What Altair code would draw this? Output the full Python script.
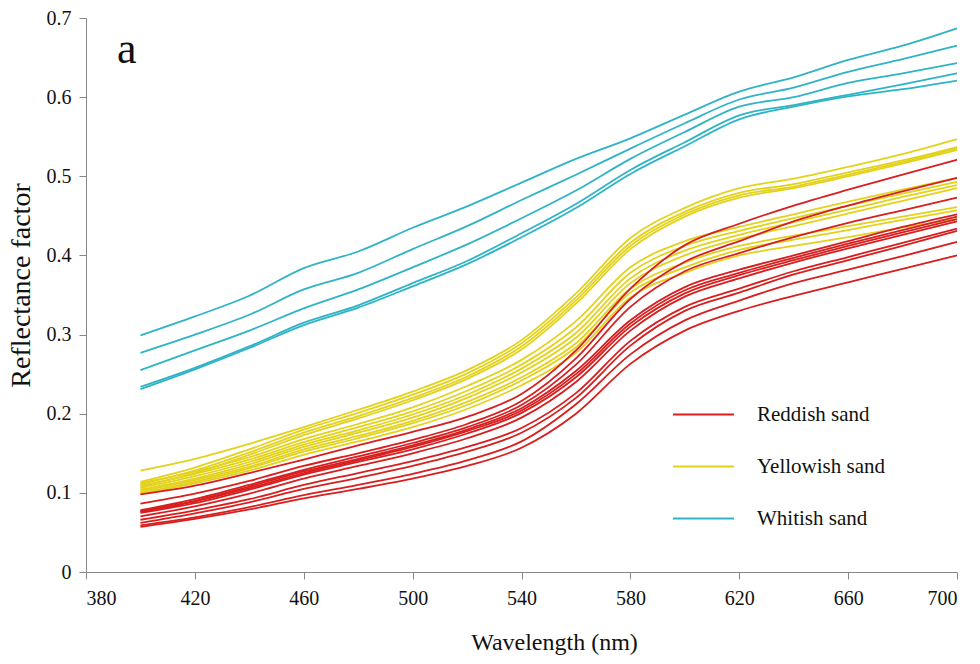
import altair as alt
import pandas as pd

WAVELENGTH = [400, 420, 440, 460, 480, 500, 520, 540, 560, 580, 600, 620, 640, 660, 680, 700]

WHITISH = [
    [.299, .323, .349, .384, .405, .435, .462, .492, .522, .548, .578, .607, .625, .647, .665, .687],
    [.277, .300, .325, .357, .378, .408, .437, .470, .502, .535, .567, .597, .612, .632, .648, .665],
    [.255, .280, .305, .333, .357, .385, .414, .447, .482, .522, .556, .588, .600, .618, .630, .643],
    [.234, .258, .285, .315, .337, .365, .393, .428, .465, .508, .543, .577, .590, .603, .616, .630],
    [.231, .256, .283, .312, .334, .361, .389, .423, .460, .503, .538, .572, .588, .601, .610, .621],
]

YELLOWISH = [
    [.128, .143, .162, .183, .205, .228, .255, .293, .352, .422, .460, .485, .497, .512, .528, .547],
    [.114, .132, .155, .180, .201, .224, .251, .289, .347, .416, .455, .479, .490, .505, .520, .537],
    [.111, .128, .151, .176, .197, .220, .247, .285, .343, .412, .452, .476, .487, .502, .518, .535],
    [.108, .125, .148, .173, .194, .217, .244, .281, .339, .408, .449, .473, .485, .500, .516, .533],
    [.112, .127, .145, .168, .187, .208, .235, .268, .317, .385, .418, .436, .452, .468, .483, .498],
    [.109, .124, .142, .164, .183, .203, .229, .262, .309, .378, .412, .431, .447, .463, .478, .493],
    [.106, .121, .139, .161, .179, .199, .224, .257, .302, .371, .406, .426, .442, .458, .474, .489],
    [.104, .118, .136, .158, .176, .195, .220, .252, .296, .365, .400, .421, .437, .453, .469, .485],
    [.102, .116, .133, .155, .172, .191, .215, .246, .289, .358, .391, .412, .425, .437, .449, .461],
    [.100, .114, .131, .152, .169, .188, .211, .242, .284, .353, .385, .407, .420, .432, .445, .457],
    [.099, .112, .128, .148, .165, .183, .206, .236, .277, .347, .378, .400, .412, .423, .435, .446],
]

REDDISH = [
    [.098, .109, .125, .142, .160, .177, .196, .225, .280, .358, .413, .440, .463, .483, .502, .521],
    [.0865, .099, .115, .134, .150, .167, .187, .216, .270, .345, .392, .418, .443, .463, .481, .498],
    [.078, .092, .110, .129, .146, .163, .183, .211, .262, .335, .380, .403, .423, .441, .457, .473],
    [.077, .090, .108, .127, .143, .160, .180, .207, .254, .318, .360, .382, .400, .418, .436, .452],
    [.076, .089, .106, .125, .141, .158, .178, .204, .250, .314, .356, .378, .397, .415, .432, .449],
    [.0746, .087, .104, .123, .139, .155, .175, .201, .246, .310, .352, .375, .394, .412, .429, .446],
    [.0704, .083, .099, .118, .134, .150, .169, .195, .240, .305, .348, .371, .391, .409, .426, .443],
    [.066, .078, .092, .110, .125, .140, .158, .182, .226, .292, .335, .358, .380, .398, .416, .434],
    [.062, .074, .088, .105, .119, .134, .152, .176, .220, .286, .330, .353, .376, .394, .412, .431],
    [.059, .069, .082, .097, .110, .124, .141, .165, .212, .275, .318, .343, .365, .382, .399, .417],
    [.057, .067, .079, .093, .105, .118, .134, .157, .200, .263, .305, .330, .349, .366, .383, .400],
]

CLASSES = ["Reddish sand", "Yellowish sand", "Whitish sand"]
COLORS = ["#D81E1E", "#E3D21C", "#2FB4C6"]
X_TICKS = [380, 420, 460, 500, 540, 580, 620, 660, 700]
Y_TICKS = [0, 0.1, 0.2, 0.3, 0.4, 0.5, 0.6, 0.7]
PANEL_LABEL = ["a"]

rows = []
for cls, group in [("Whitish sand", WHITISH), ("Yellowish sand", YELLOWISH), ("Reddish sand", REDDISH)]:
    for i, series in enumerate(group):
        for wl, v in zip(WAVELENGTH, series):
            rows.append({"cls": cls, "line": f"{cls}-{i}", "wl": wl, "refl": v})
df = pd.DataFrame(rows)

FONT = "Liberation Serif"

x = alt.X("wl:Q", scale=alt.Scale(domain=[380, 700], nice=False, zero=False),
          axis=alt.Axis(values=X_TICKS, title="Wavelength (nm)", grid=False,
                        labelFont=FONT, titleFont=FONT,
                        labelFontSize=20, titleFontSize=24, titlePadding=22,
                        titleX=468, tickSize=7, labelPadding=9))
y = alt.Y("refl:Q", scale=alt.Scale(domain=[0, 0.7], nice=False),
          axis=alt.Axis(values=Y_TICKS, title="Reflectance factor", grid=False,
                        labelFont=FONT, titleFont=FONT,
                        labelFontSize=20, titleFontSize=28, titlePadding=11,
                        titleY=267, tickSize=7, labelPadding=8, format="~g"))
color = alt.Color("cls:N", scale=alt.Scale(domain=CLASSES, range=COLORS),
                  legend=alt.Legend(title=None, orient="none", legendX=586, legendY=365,
                                    symbolType="stroke", symbolSize=3721, symbolStrokeWidth=2,
                                    labelFont=FONT, labelFontSize=21, labelOffset=22,
                                    rowPadding=10, padding=0, labelColor="#111"))

base = alt.Chart(df).mark_line(strokeWidth=1.8, interpolate="monotone").encode(
    x=x, y=y, color=color, detail="line:N")

layers = [base.transform_filter(alt.datum.cls == c) for c in ["Whitish sand", "Yellowish sand", "Reddish sand"]]

label = alt.Chart(pd.DataFrame({"t": PANEL_LABEL})).mark_text(
    font=FONT, fontSize=44, align="left", baseline="alphabetic", color="#111"
).encode(text="t:N", x=alt.value(31), y=alt.value(45))

chart = alt.layer(*layers, label).properties(
    width=871, height=554,
    padding={"left": 86, "top": 18, "right": 23, "bottom": 92},
    autosize=alt.AutoSizeParams(type="none"),
).configure(font=FONT).configure_view(stroke=None).configure_axis(
    labelFont=FONT, titleFont=FONT, titleFontWeight="normal",
    domainColor="#888", tickColor="#888", labelColor="#111", titleColor="#111",
).configure_legend(labelFont=FONT)

chart.save("out.html", embed_options={"renderer": "svg", "actions": False})
